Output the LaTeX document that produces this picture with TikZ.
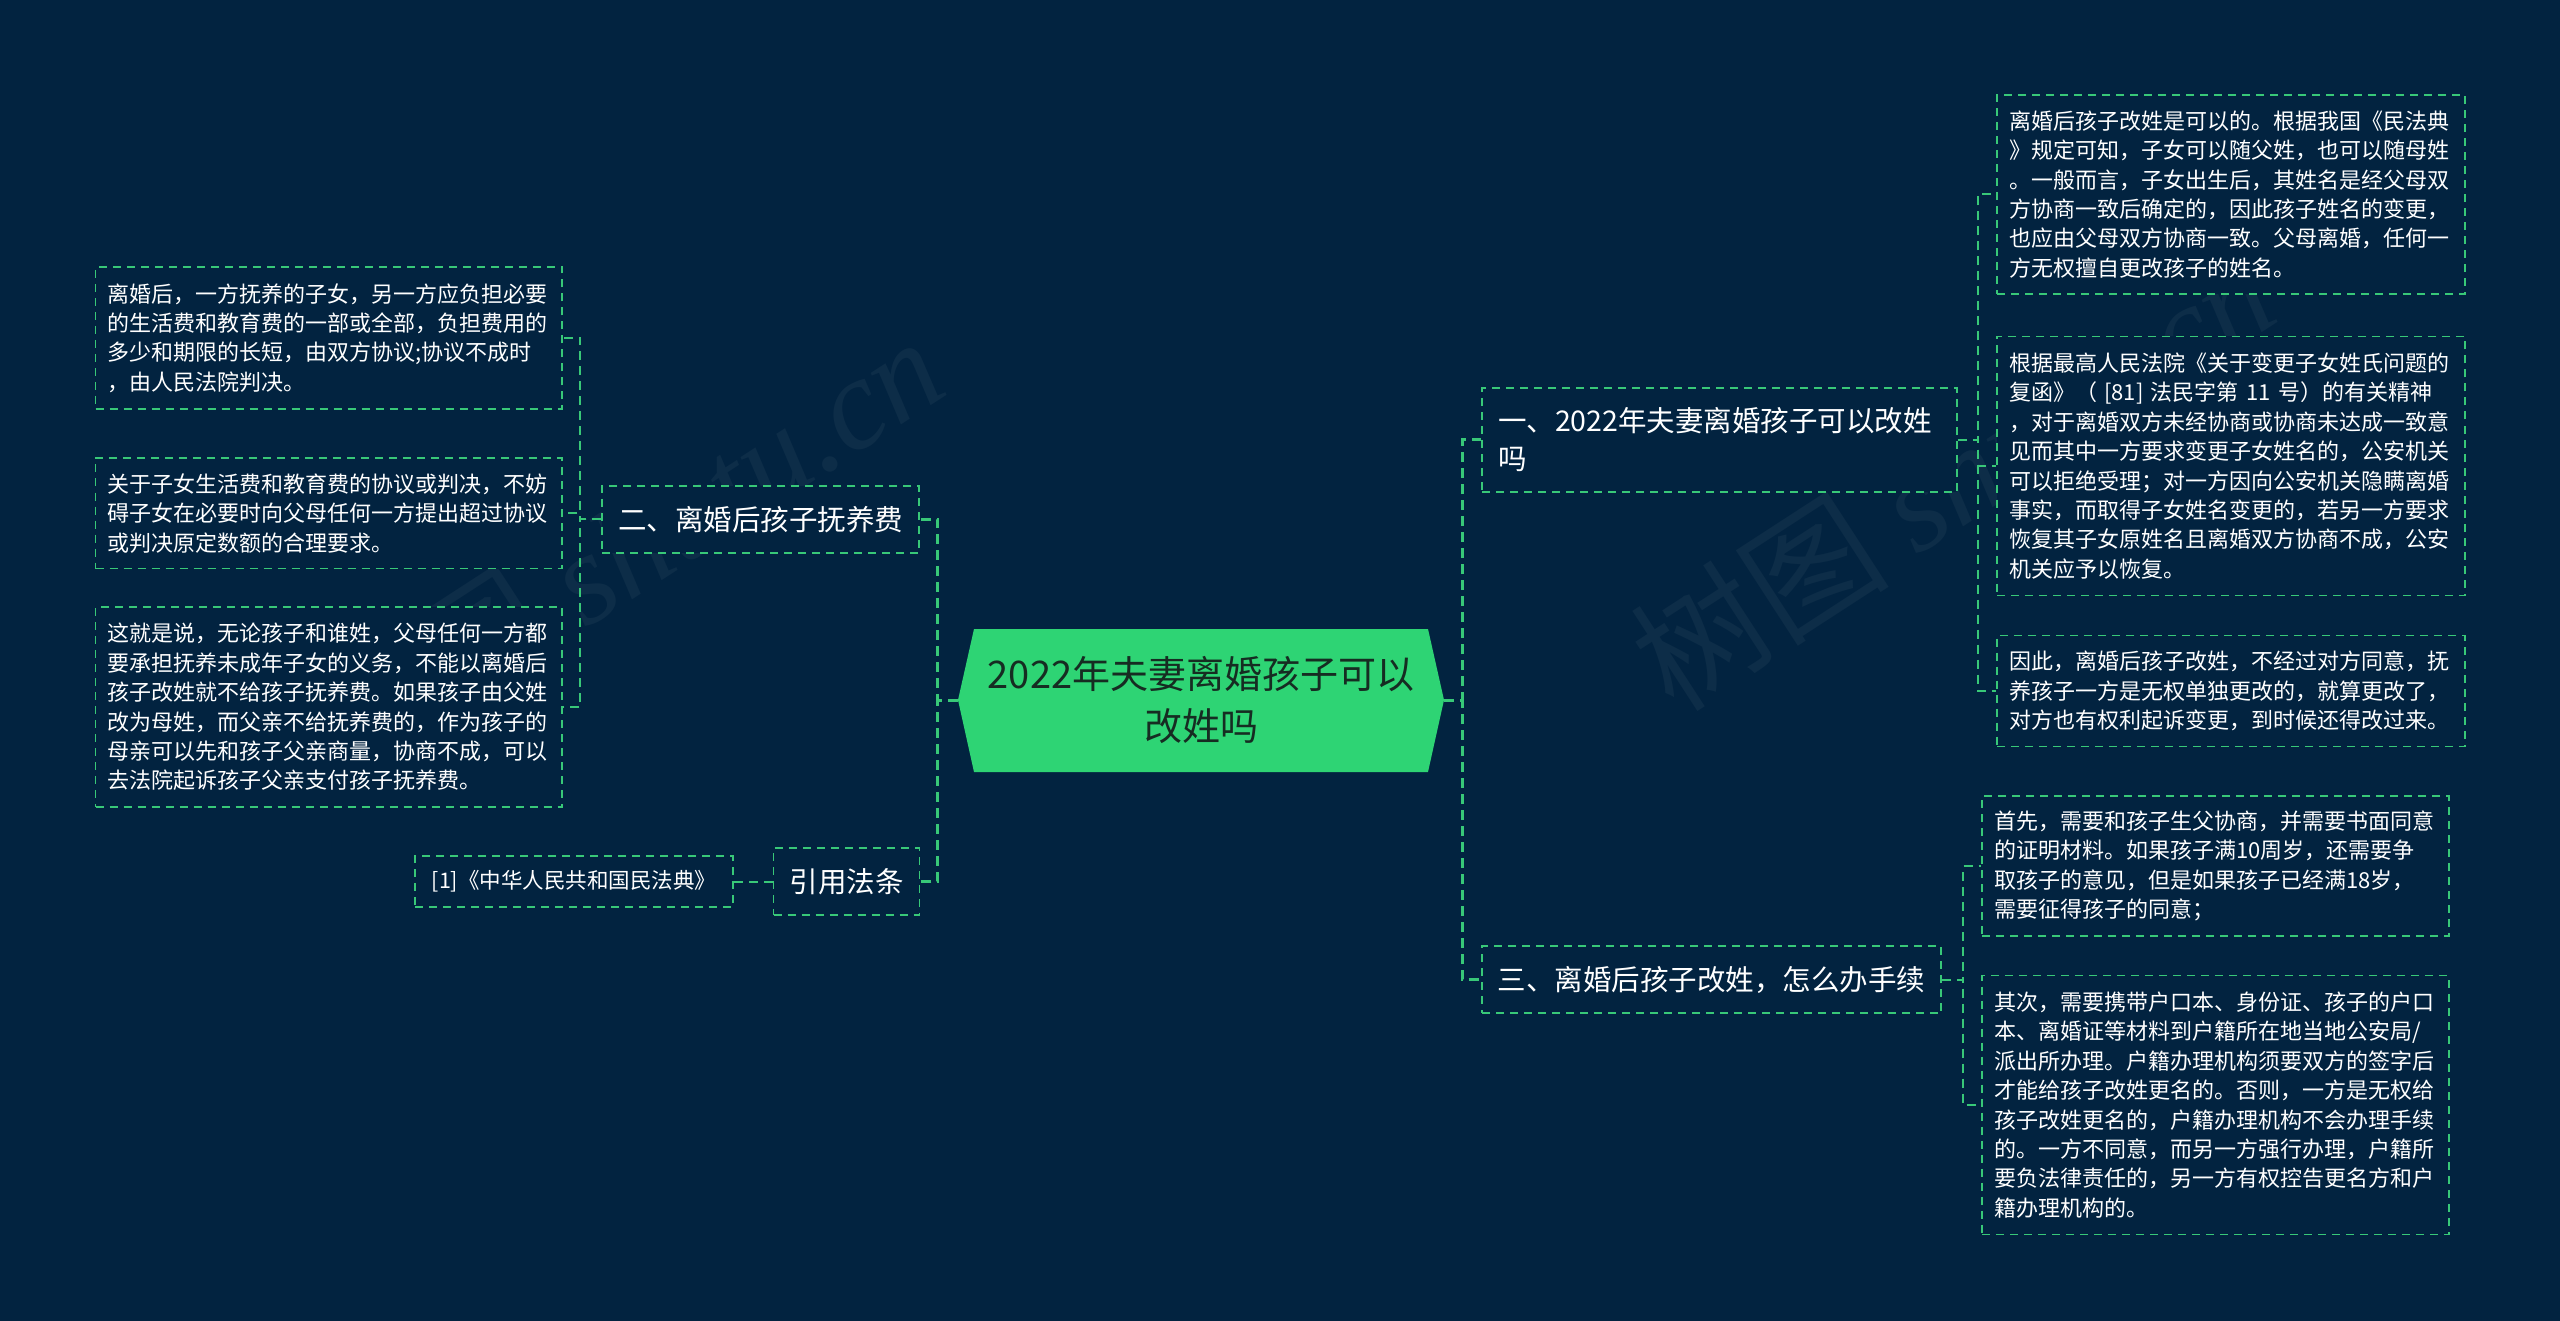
\documentclass[tikz,border=0pt]{standalone}
\usepackage{fontspec}
\setmainfont{Noto Sans CJK SC}
\newfontfamily\wmfont{Liberation Serif}
\definecolor{bg}{RGB}{2,35,64}
\definecolor{lg}{RGB}{56,200,120}
\definecolor{hexg}{RGB}{46,212,116}
\definecolor{hext}{RGB}{22,44,34}
\definecolor{wm}{RGB}{13,45,72}
\tikzset{
 box/.style={draw=lg, line width=1.6pt, dash pattern=on 8pt off 6pt, fill=bg, text=white},
 leaf/.style={box, font=\fontsize{22}{29.4}\selectfont, align=left, inner xsep=12pt, inner ysep=0pt},
 branch/.style={box, font=\fontsize{28.5}{38}\selectfont, inner xsep=16pt, inner ysep=0pt},
 conn/.style={draw=lg, line width=3pt, dash pattern=on 10pt off 6pt},
 subconn/.style={draw=lg, line width=2pt, dash pattern=on 9pt off 6pt},
 wmark/.style={text=wm, rotate=33, font=\fontsize{130}{130}\selectfont},
}
\begin{document}
\begin{tikzpicture}[x=1pt,y=-1pt]
\fill[bg] (0,0) rectangle (2560,1321);
\useasboundingbox (0,0) rectangle (2560,1321);

% watermarks
\node[wmark] (wm1) at (621,548) {树图 {\wmfont\itshape shutu.cn}};
\node[wmark] (wm2) at (1952,475) {树图 {\wmfont\itshape shutu.cn}};

% central hexagon
\fill[hexg] (958,700) -- (974,629) -- (1428,629) -- (1444,700) -- (1428,772) -- (974,772) -- cycle;
\node[minimum width=486pt, minimum height=143pt, inner sep=0pt, align=center, text=hext,
      font=\fontsize{38}{52}\selectfont] (hex) at (1201,700) {2022年夫妻离婚孩子可以\\改姓吗};

% right branches
\node[branch, align=left, text width=443pt, minimum height=104pt] (b1) at (1719.5,440)
  {一、2022年夫妻离婚孩子可以改姓\\吗};
\node[branch, minimum width=459pt, minimum height=67pt] (b3) at (1711.5,979.5)
  {三、离婚后孩子改姓，怎么办手续};

% left branches
\node[branch, minimum width=314.5pt, minimum height=67pt] (b2) at (760.75,519.2)
  {二、离婚后孩子抚养费};
\node[branch, minimum width=143pt, minimum height=67pt] (b4) at (846.5,881.5)
  {引用法条};

% right leaves
\node[leaf, text width=444pt, minimum height=199pt] (r1) at (2231,194.5)
  {离婚后孩子改姓是可以的。根据我国《民法典\\》规定可知，子女可以随父姓，也可以随母姓\\。一般而言，子女出生后，其姓名是经父母双\\方协商一致后确定的，因此孩子姓名的变更，\\也应由父母双方协商一致。父母离婚，任何一\\方无权擅自更改孩子的姓名。};
\node[leaf, text width=444pt, minimum height=259pt] (r2) at (2231,466)
  {根据最高人民法院《关于变更子女姓氏问题的\\复函》（ [81] 法民字第 11 号）的有关精神\\，对于离婚双方未经协商或协商未达成一致意\\见而其中一方要求变更子女姓名的，公安机关\\可以拒绝受理；对一方因向公安机关隐瞒离婚\\事实，而取得子女姓名变更的，若另一方要求\\恢复其子女原姓名且离婚双方协商不成，公安\\机关应予以恢复。};
\node[leaf, text width=444pt, minimum height=111pt] (r3) at (2231,691)
  {因此，离婚后孩子改姓，不经过对方同意，抚\\养孩子一方是无权单独更改的，就算更改了，\\对方也有权利起诉变更，到时候还得改过来。};
\node[leaf, text width=443pt, minimum height=140pt] (r4) at (2215.5,866)
  {首先，需要和孩子生父协商，并需要书面同意\\的证明材料。如果孩子满10周岁，还需要争\\取孩子的意见，但是如果孩子已经满18岁，\\需要征得孩子的同意；};
\node[leaf, text width=443pt, minimum height=259pt] (r5) at (2215.5,1105)
  {其次，需要携带户口本、身份证、孩子的户口\\本、离婚证等材料到户籍所在地当地公安局/\\派出所办理。户籍办理机构须要双方的签字后\\才能给孩子改姓更名的。否则，一方是无权给\\孩子改姓更名的，户籍办理机构不会办理手续\\的。一方不同意，而另一方强行办理，户籍所\\要负法律责任的，另一方有权控告更名方和户\\籍办理机构的。};

% left leaves
\node[leaf, text width=442.5pt, minimum height=142pt] (l1) at (328.75,338)
  {离婚后，一方抚养的子女，另一方应负担必要\\的生活费和教育费的一部或全部，负担费用的\\多少和期限的长短，由双方协议;协议不成时\\，由人民法院判决。};
\node[leaf, text width=442.5pt, minimum height=110.5pt] (l2) at (328.75,513.25)
  {关于子女生活费和教育费的协议或判决，不妨\\碍子女在必要时向父母任何一方提出超过协议\\或判决原定数额的合理要求。};
\node[leaf, text width=442.5pt, minimum height=200pt] (l3) at (328.75,707)
  {这就是说，无论孩子和谁姓，父母任何一方都\\要承担抚养未成年子女的义务，不能以离婚后\\孩子改姓就不给孩子抚养费。如果孩子由父姓\\改为母姓，而父亲不给抚养费的，作为孩子的\\母亲可以先和孩子父亲商量，协商不成，可以\\去法院起诉孩子父亲支付孩子抚养费。};
\node[leaf, font=\fontsize{21.5}{26}\selectfont, minimum width=318pt, minimum height=51pt] (l4) at (574,881.5)
  {[1]《中华人民共和国民法典》};

% connectors from the centre
\draw[conn] (hex.east) -- ++(18,0) |- (b1.west);
\draw[conn] (hex.east) -- ++(18,0) |- (b3.west);
\draw[conn] (hex.west) -- ++(-20,0) |- (b2.east);
\draw[conn] (hex.west) -- ++(-20,0) |- (b4.east);

% connectors to leaves
\draw[subconn] (b1.east) -- ++(20.5,0) |- (r1.west);
\draw[subconn] (b1.east) -- ++(20.5,0) |- (r2.west);
\draw[subconn] (b1.east) -- ++(20.5,0) |- (r3.west);
\draw[subconn] (b3.east) -- ++(21,0) |- (r4.west);
\draw[subconn] (b3.east) -- ++(21,0) |- (r5.west);
\draw[subconn] (b2.west) -- ++(-21,0) |- (l1.east);
\draw[subconn] (b2.west) -- ++(-21,0) |- (l2.east);
\draw[subconn] (b2.west) -- ++(-21,0) |- (l3.east);
\draw[subconn] (b4.west) -- (l4.east);
\end{tikzpicture}
\end{document}
